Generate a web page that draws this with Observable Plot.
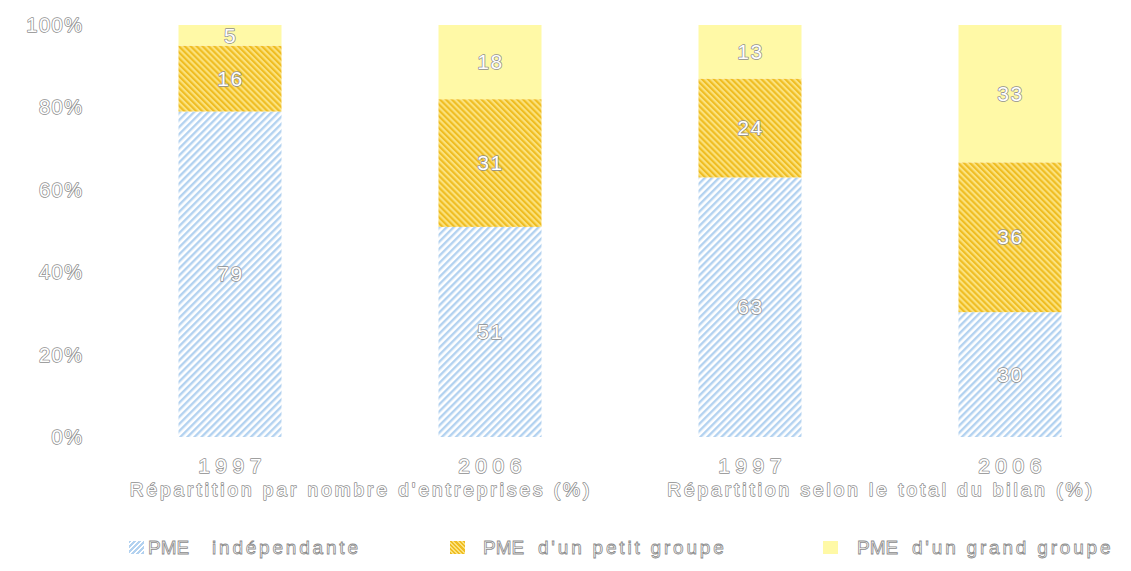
<!DOCTYPE html>
<html><head><meta charset="utf-8">
<script src="https://cdn.jsdelivr.net/npm/d3@7"></script>
<script src="https://cdn.jsdelivr.net/npm/@observablehq/plot@0.6"></script>
<style>
body{margin:0;background:#fff;font-family:"Liberation Sans",Arial,sans-serif;}
#chart{position:relative;width:1131px;height:571px;overflow:hidden;}
#legend{position:absolute;left:0;top:510px;width:1131px;height:61px;}
.sw{position:absolute;top:31px;width:15px;height:13px;}
.lt{position:absolute;top:27px;font-size:19px;letter-spacing:2.8px;color:#fff;-webkit-text-stroke:0.8px #8a8a8a;white-space:nowrap;line-height:22px;}
g[aria-label="x-axis tick label"] text{letter-spacing:5.5px;}
g[aria-label="fx-axis tick label"] text{letter-spacing:3px;}
</style></head><body><div id="chart"></div>
<script>
// ---- data ----
const groups = ["Répartition par nombre d'entreprises (%)", "Répartition selon le total du bilan (%)"];
const years = ["1997", "2006"];
const categories = ["PME indépendante", "PME d'un petit groupe", "PME d'un grand groupe"];
const legendPrefix = ["PME", "PME", "PME"];
const legendLabels = ["indépendante", "d'un petit groupe", "d'un grand groupe"];
const independante = [79, 51, 63, 30];
const petitGroupe = [16, 31, 24, 36];
const grandGroupe = [5, 18, 13, 33];
const yTicks = [0, 20, 40, 60, 80, 100];

const series = [independante, petitGroupe, grandGroupe];
const rows = [];
for (let i = 0; i < 4; i++) {
  categories.forEach((c, k) => rows.push({group: groups[Math.floor(i / 2)], year: years[i % 2], cat: c, value: series[k][i]}));
}

const fills = ["url(#hatchBlue)", "url(#hatchGold)", "#fff9a6"];
const outline = "#8e8e8e";

const svg = Plot.plot({
  width: 1131, height: 510,
  marginLeft: 151.5, marginRight: 44.5, marginTop: 25, marginBottom: 73,
  style: {fontFamily: "Liberation Sans, Arial, sans-serif", letterSpacing: "1.5px", background: "#fff"},
  fx: {domain: groups, paddingInner: 0.202, paddingOuter: 0, axis: null},
  x: {domain: years, paddingInner: 0.604, paddingOuter: 0.1, axis: null},
  y: {percent: true, domain: [0, 100], axis: null},
  color: {domain: categories, range: fills},
  marks: [
    Plot.barY(rows, Plot.stackY({offset: "normalize", order: categories, x: "year", fx: "group", y: "value", fill: "cat"})),
    Plot.text(rows, Plot.stackY({offset: "normalize", order: categories, x: "year", fx: "group", y: "value", z: "cat", text: d => String(d.value), fill: "#fff", stroke: outline, strokeWidth: 1.5, fontSize: 21})),
    Plot.axisY({ticks: yTicks, tickFormat: d => d + "%", tickSize: 0, tickPadding: 69, label: null, fontSize: 20, fill: "#fff", textStroke: outline, textStrokeWidth: 1.5}),
    Plot.axisX({anchor: "bottom", tickSize: 0, tickPadding: 21, label: null, fontSize: 21, fill: "#fff", textStroke: outline, textStrokeWidth: 1.5, dx: 2}),
    Plot.axisFx({anchor: "bottom", tickSize: 0, tickPadding: 45, label: null, fontSize: 19, fill: "#fff", textStroke: outline, textStrokeWidth: 1.5, dx: 1})
  ]
});

d3.select(svg).insert("defs", ":first-child").html(`
  <pattern id="hatchBlue" patternUnits="userSpaceOnUse" width="5" height="5" patternTransform="rotate(45)">
    <rect width="5" height="5" fill="#ffffff"/>
    <rect width="2.4" height="5" fill="#b3d2f0"/>
  </pattern>
  <pattern id="hatchGold" patternUnits="userSpaceOnUse" width="4.2" height="4.2" patternTransform="rotate(-45)">
    <rect width="4.2" height="4.2" fill="#fbe27e"/>
    <rect width="2.1" height="4.2" fill="#efbd22"/>
  </pattern>`);

const chart = document.getElementById("chart");
chart.appendChild(svg);

const legend = document.createElement("div");
legend.id = "legend";
const swatchCss = [
  "repeating-linear-gradient(135deg,#b3d2f0 0 1.7px,#fff 1.7px 3.5px)",
  "repeating-linear-gradient(45deg,#efbd22 0 1.5px,#fbe27e 1.5px 3px)",
  "#fff9a6"
];
const swX = [129, 450, 823];
const preX = [148, 483, 857];
const labX = [212, 538, 912];
categories.forEach((c, k) => {
  const sw = document.createElement("div");
  sw.className = "sw"; sw.style.left = swX[k] + "px"; sw.style.background = swatchCss[k];
  legend.appendChild(sw);
  const p = document.createElement("span");
  p.className = "lt"; p.style.left = preX[k] + "px"; p.style.letterSpacing = "0px"; p.textContent = legendPrefix[k];
  legend.appendChild(p);
  const l = document.createElement("span");
  l.className = "lt"; l.style.left = labX[k] + "px"; l.textContent = legendLabels[k];
  legend.appendChild(l);
});
chart.appendChild(legend);
</script>
</body></html>
